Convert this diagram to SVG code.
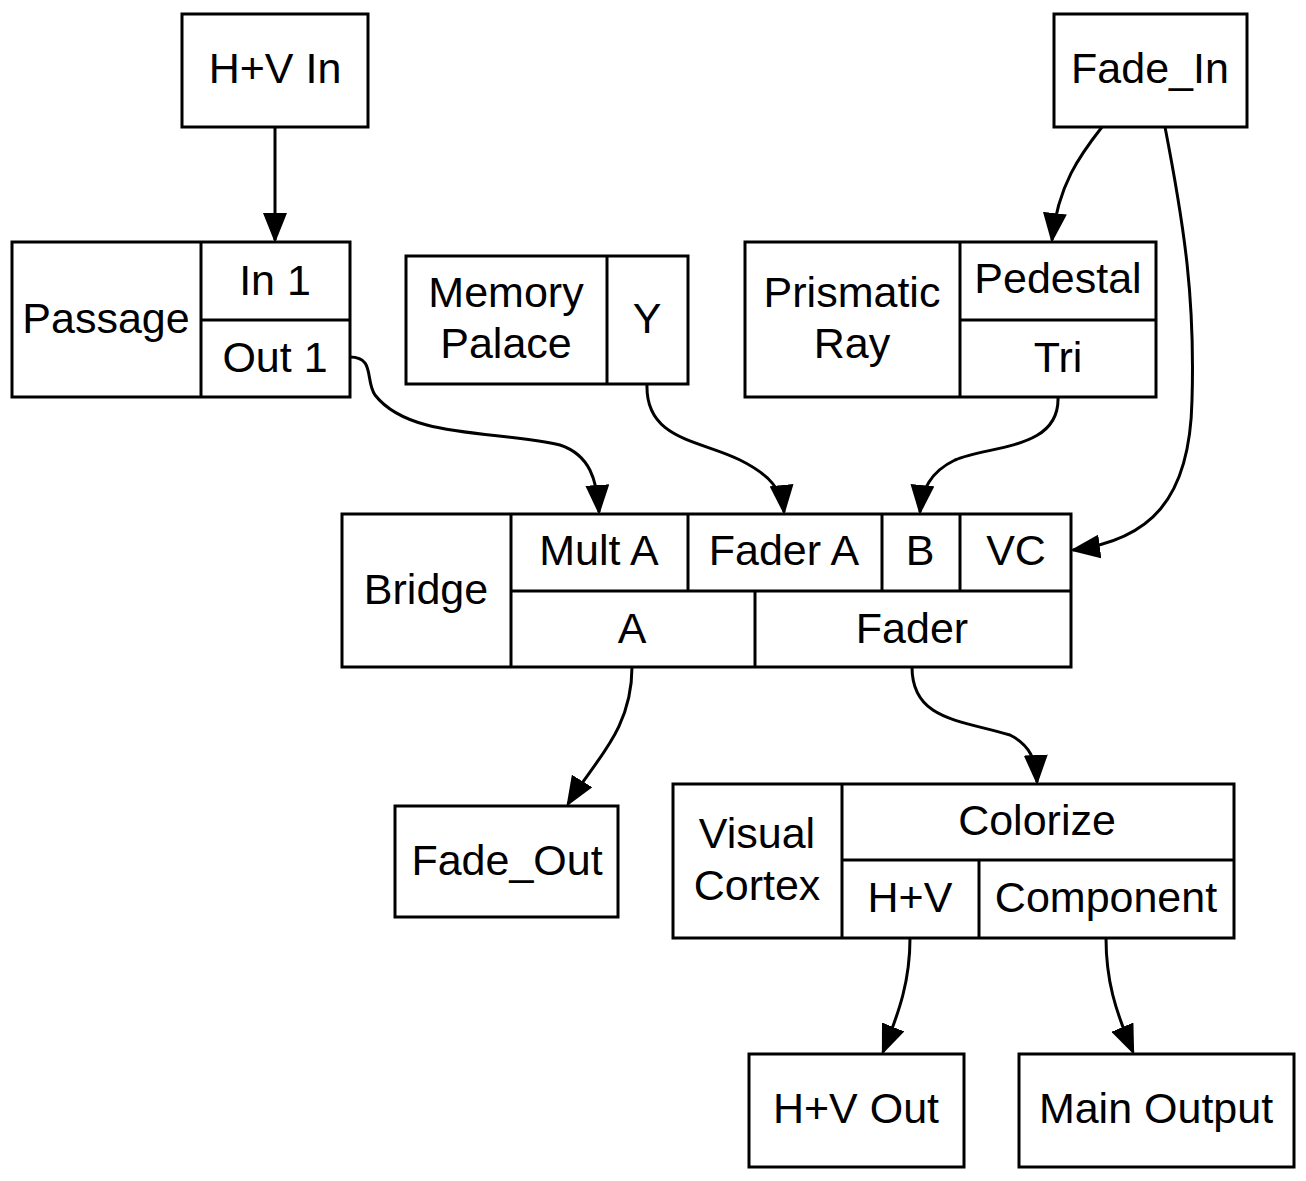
<svg xmlns="http://www.w3.org/2000/svg" width="1306" height="1181" viewBox="0 0 1306 1181">
<style>
rect.n,line.d{fill:#fff;stroke:#000;stroke-width:3}
line.d{fill:none}
text{font-family:"Liberation Sans",Arial,sans-serif;font-size:43px;text-anchor:middle;dominant-baseline:central;fill:#000}
#edges path{fill:none;stroke:#000;stroke-width:3;marker-end:url(#ah)}
</style>
<defs><marker id="ah" markerWidth="10" markerHeight="8" refX="9" refY="4" orient="auto" markerUnits="strokeWidth"><path d="M0,0 L10,4 L0,8 Z" fill="#000"/></marker></defs>
<rect width="1306" height="1181" fill="#fff"/>
<g id="edges">
<path d="M275,127 L275,240"/>
<path d="M1102,127 C1080,155 1058,185 1052,240"/>
<path d="M1165,127 C1185,230 1195,300 1192,400 C1190,500 1150,540 1073,550"/>
<path d="M350,357 C375,357 365,380 375,395 C410,440 500,430 560,445 C590,455 597,480 599,512"/>
<path d="M647,384 C645,440 700,440 740,460 C770,475 782,490 784,512"/>
<path d="M1058,397 C1060,450 990,445 955,460 C930,472 922,490 920,512"/>
<path d="M632,667 C632,730 595,760 568,804"/>
<path d="M912,667 C912,720 960,720 1010,735 C1030,745 1036,760 1037,782"/>
<path d="M910,938 C910,980 900,1010 883,1052"/>
<path d="M1106,938 C1106,980 1115,1010 1133,1052"/>
</g>
<g id="hvin"><rect class="n" x="182" y="14" width="186" height="113"/><text x="275" y="68">H+V In</text></g>
<g id="fadein"><rect class="n" x="1054" y="14" width="193" height="113"/><text x="1150" y="68">Fade_In</text></g>
<g id="passage"><rect class="n" x="12" y="242" width="338" height="155"/><line class="d" x1="201" y1="242" x2="201" y2="397"/><line class="d" x1="201" y1="320" x2="350" y2="320"/><text x="106" y="318">Passage</text><text x="275" y="280">In 1</text><text x="275" y="357">Out 1</text></g>
<g id="memory"><rect class="n" x="406" y="256" width="282" height="128"/><line class="d" x1="607" y1="256" x2="607" y2="384"/><text x="506" y="292">Memory</text><text x="506" y="343">Palace</text><text x="647" y="318">Y</text></g>
<g id="prismatic"><rect class="n" x="745" y="242" width="411" height="155"/><line class="d" x1="960" y1="242" x2="960" y2="397"/><line class="d" x1="960" y1="320" x2="1156" y2="320"/><text x="852" y="292">Prismatic</text><text x="852" y="343">Ray</text><text x="1058" y="278">Pedestal</text><text x="1058" y="357">Tri</text></g>
<g id="bridge"><rect class="n" x="342" y="514" width="729" height="153"/><line class="d" x1="511" y1="514" x2="511" y2="667"/><line class="d" x1="511" y1="591" x2="1071" y2="591"/><line class="d" x1="688" y1="514" x2="688" y2="591"/><line class="d" x1="882" y1="514" x2="882" y2="591"/><line class="d" x1="960" y1="514" x2="960" y2="591"/><line class="d" x1="755" y1="591" x2="755" y2="667"/><text x="426" y="589">Bridge</text><text x="599" y="550">Mult A</text><text x="784" y="550">Fader A</text><text x="920" y="550">B</text><text x="1016" y="550">VC</text><text x="632" y="628">A</text><text x="912" y="628">Fader</text></g>
<g id="fadeout"><rect class="n" x="395" y="806" width="223" height="111"/><text x="507" y="860">Fade_Out</text></g>
<g id="cortex"><rect class="n" x="673" y="784" width="561" height="154"/><line class="d" x1="842" y1="784" x2="842" y2="938"/><line class="d" x1="842" y1="860" x2="1234" y2="860"/><line class="d" x1="979" y1="860" x2="979" y2="938"/><text x="757" y="833">Visual</text><text x="757" y="885">Cortex</text><text x="1037" y="820">Colorize</text><text x="910" y="897">H+V</text><text x="1106" y="897">Component</text></g>
<g id="hvout"><rect class="n" x="749" y="1054" width="215" height="113"/><text x="856" y="1108">H+V Out</text></g>
<g id="mainout"><rect class="n" x="1019" y="1054" width="275" height="113"/><text x="1156" y="1108">Main Output</text></g>
</svg>
